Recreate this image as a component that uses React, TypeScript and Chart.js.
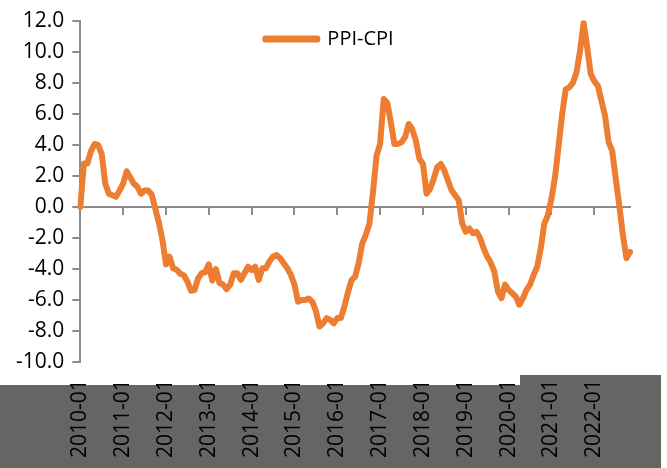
import React, { useEffect, useRef } from 'react';
import { Chart, registerables } from 'chart.js';

Chart.register(...registerables);

// Monthly categories 2010-01 .. 2022-11
const startYear = 2010;
const monthCount = 155;
const categories: string[] = Array.from({ length: monthCount }, (_, i) => {
  const y = startYear + Math.floor(i / 12);
  const m = (i % 12) + 1;
  return `${y}-${m < 10 ? '0' + m : m}`;
});

const seriesName = 'PPI-CPI';

// PPI-CPI
const ppiCpi: number[] = [
  0, 2.8, 2.8, 3.6, 4.05, 4.0, 3.4, 1.5, 0.85, 0.75, 0.65, 1.05,
  1.5, 2.3, 1.9, 1.5, 1.3, 0.85, 1.05, 1.05, 0.8, -0.1, -1.0, -2.1,
  -3.7, -3.2, -3.95, -4.05, -4.3, -4.4, -4.8, -5.4, -5.35, -4.6, -4.27, -4.2,
  -3.7, -4.75, -4.0, -4.9, -5.0, -5.3, -5.0, -4.27, -4.27, -4.7, -4.27, -3.85,
  -4.06, -3.85, -4.7, -3.95, -3.95, -3.5, -3.2, -3.1, -3.3, -3.63, -3.95, -4.38,
  -5.0, -6.1, -6.0, -6.0, -5.9, -6.1, -6.7, -7.7, -7.5, -7.16, -7.27, -7.5,
  -7.16, -7.16, -6.4, -5.5, -4.7, -4.5, -3.6, -2.35, -1.8, -1.07, 0.96, 3.3,
  4.06, 6.95, 6.7, 5.45, 4.06, 4.06, 4.17, 4.5, 5.34, 5.0, 4.27, 3.1,
  2.77, 0.85, 1.17, 1.8, 2.56, 2.77, 2.35, 1.7, 1.07, 0.75, 0.43, -1.07,
  -1.6, -1.39, -1.7, -1.6, -2.0, -2.67, -3.2, -3.6, -4.17, -5.45, -5.88, -5.0,
  -5.34, -5.56, -5.77, -6.3, -5.88, -5.34, -5.0, -4.38, -3.85, -2.67, -1.07, -0.53,
  0.53, 1.92, 3.95, 5.98, 7.58, 7.7, 8.0, 8.65, 10.04, 11.86, 10.3, 8.55,
  8.1, 7.8, 6.84, 5.88, 4.17, 3.63, 1.82, 0.1, -1.8, -3.3, -2.9,
];

const yMin = -10;
const yMax = 12;
const yStep = 2;

const ORANGE = '#ED7D31';
const AXIS_GRAY = '#8c8c8c';
const FONT = "'Open Sans', sans-serif";

const keepJanuary = (axis: any) => {
  axis.ticks = axis.ticks.filter((t: any) => t.value % 12 === 0);
};

// Centre the in-chart legend horizontally over the whole canvas
const legendOverCanvas = {
  id: 'legendOverCanvas',
  afterLayout(chart: any) {
    const legend = chart.legend;
    if (!legend || !legend.legendHitBoxes || !legend.legendHitBoxes.length) return;
    const itemWidth = legend.legendHitBoxes[0].width;
    const pad = legend.options.labels.padding;
    legend.left = (chart.width - itemWidth) / 2 - pad - 4;
    legend.right = legend.left + itemWidth + 2 * pad;
    legend.width = legend.right - legend.left;
  },
};

export default function App() {
  const ref = useRef<HTMLCanvasElement | null>(null);

  useEffect(() => {
    if (!ref.current) return;
    const chart = new Chart(ref.current, {
      type: 'line',
      data: {
        labels: categories,
        datasets: [
          {
            label: seriesName,
            data: ppiCpi,
            borderColor: ORANGE,
            backgroundColor: ORANGE,
            borderWidth: 6,
            pointRadius: 0,
            tension: 0,
            borderJoinStyle: 'round',
            borderCapStyle: 'round',
            fill: false,
          },
        ],
      },
      options: {
        animation: false,
        responsive: false,
        layout: { padding: { left: 8, right: 37, top: 8, bottom: -7 } },
        plugins: {
          tooltip: { enabled: false },
          legend: {
            position: 'chartArea' as any,
            align: 'start',
            labels: {
              boxWidth: 52,
              boxHeight: 1,
              padding: 29,
              color: '#000',
              font: { family: FONT, size: 20 },
            },
          },
        },
        scales: {
          x: {
            type: 'category',
            position: 'bottom',
            offset: false,
            afterBuildTicks: keepJanuary,
            grid: { display: false, drawTicks: false },
            border: { display: false },
            ticks: {
              autoSkip: false,
              maxRotation: 90,
              minRotation: 90,
              padding: 17,
              color: '#000',
              font: { family: FONT, size: 21 },
            },
          },
          xZero: {
            type: 'category',
            axis: 'x',
            position: { y: 0 } as any,
            offset: false,
            afterBuildTicks: keepJanuary,
            grid: {
              drawOnChartArea: false,
              drawTicks: true,
              tickLength: 7,
              color: AXIS_GRAY,
              lineWidth: 2,
            },
            border: { display: true, color: AXIS_GRAY, width: 2 },
            ticks: { display: false, autoSkip: false },
          },
          y: {
            min: yMin,
            max: yMax,
            grid: {
              drawOnChartArea: false,
              drawTicks: true,
              tickLength: 8,
              color: AXIS_GRAY,
              lineWidth: 2,
            },
            border: { display: true, color: AXIS_GRAY, width: 2 },
            ticks: {
              stepSize: yStep,
              padding: 8,
              color: '#000',
              font: { family: FONT, size: 21 },
              callback: (v: any) => Number(v).toFixed(1),
            },
          },
        },
      },
      plugins: [legendOverCanvas],
    });
    return () => chart.destroy();
  }, []);

  return (
    <div style={{ position: 'fixed', left: 0, top: 0, width: 667, height: 468, background: '#fff' }}>
      <div style={{ position: 'absolute', left: 0, top: 385, width: 661, height: 83, background: '#656563' }} />
      <div style={{ position: 'absolute', left: 520, top: 375, width: 141, height: 10, background: '#656563' }} />
      <canvas ref={ref} width={667} height={468} style={{ position: 'absolute', left: 0, top: 0 }} />
    </div>
  );
}
